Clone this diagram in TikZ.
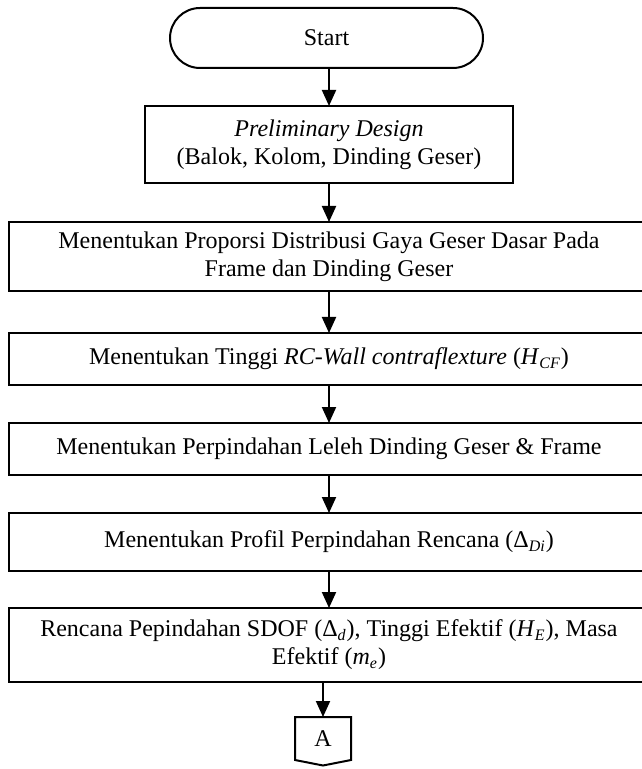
\documentclass[tikz,border=0pt]{standalone}
\usepackage{fontspec}
\setmainfont{Liberation Serif}
\usetikzlibrary{arrows.meta,calc}
\begin{document}
\begin{tikzpicture}[x=0.5pt,y=-0.5pt,
  every node/.style={font=\fontsize{12}{14}\selectfont},
  box/.style={draw, line width=1pt, inner sep=0pt, outer sep=0pt, align=center},
  flow/.style={line width=1pt, -{Triangle[width=7pt,length=8pt]}}]
\useasboundingbox (0,0) rectangle (641,769);

% terminal
\node[box, rounded corners=15pt, minimum width=156.5pt, minimum height=30pt] (start) at (326.5,38) {Start};

% process boxes
\node[box, minimum width=184pt, minimum height=38.5pt] (pre) at (329,144.5)
  {\textit{Preliminary Design}\\(Balok, Kolom, Dinding Geser)};
\node[box, minimum width=320pt, minimum height=34.5pt] (prop) at (329,256.5)
  {Menentukan Proporsi Distribusi Gaya Geser Dasar Pada\\Frame dan Dinding Geser};
\node[box, minimum width=320pt, minimum height=26pt] (hcf) at (329,359)
  {Menentukan Tinggi \textit{RC-Wall contraflexture} (\textit{H}\textsubscript{\textit{CF}})};
\node[box, minimum width=320pt, minimum height=26pt] (leleh) at (329,449)
  {Menentukan Perpindahan Leleh Dinding Geser \& Frame};
\node[box, minimum width=320pt, minimum height=29pt] (profil) at (329,542)
  {Menentukan Profil Perpindahan Rencana (Δ\textsubscript{\textit{Di}})};
\node[box, minimum width=320pt, minimum height=37pt] (sdof) at (329,645)
  {Rencana Pepindahan SDOF (Δ\textsubscript{\textit{d}}), Tinggi Efektif (\textit{H}\textsubscript{\textit{E}}), Masa\\Efektif (\textit{m}\textsubscript{\textit{e}})};

% off-page connector
\node[inner sep=0pt, outer sep=0pt, minimum width=28pt, minimum height=21.5pt] (conA) at (323,738.5) {A};
\draw[line width=1pt, line join=miter]
  (conA.north west) -- (conA.north east) -- (conA.south east)
  -- ($(conA.south)+(0,5.5)$) -- (conA.south west) -- cycle;

% flow lines
\draw[flow] (pre.north |- start.south) -- (pre.north);
\draw[flow] (pre.south) -- (prop.north);
\draw[flow] (prop.south) -- (hcf.north);
\draw[flow] (hcf.south) -- (leleh.north);
\draw[flow] (leleh.south) -- (profil.north);
\draw[flow] (profil.south) -- (sdof.north);
\draw[flow] (conA.north |- sdof.south) -- (conA.north);
\end{tikzpicture}
\end{document}
